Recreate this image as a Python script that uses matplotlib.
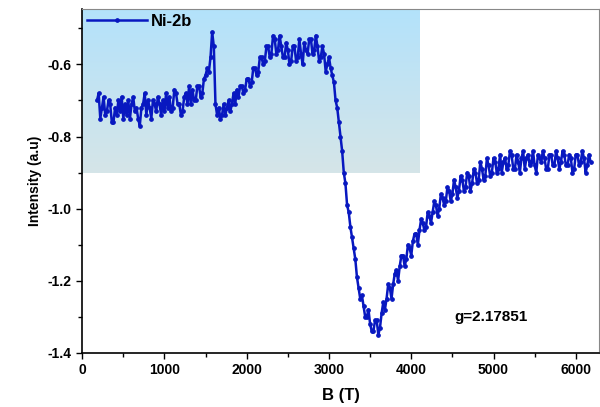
import numpy as np
import matplotlib
matplotlib.use('Agg')
import matplotlib.pyplot as plt
from matplotlib.colors import LinearSegmentedColormap

plt.rcParams['font.family'] = ['Liberation Sans', 'DejaVu Sans']
plt.rcParams['font.weight'] = 'bold'

# field sweep, one reading every 20 (180 ... 6180)
b_field = np.arange(180, 6200, 20)
intensity = [
    -0.70, -0.68, -0.75, -0.72, -0.69, -0.74, -0.73, -0.70, -0.71, -0.76,  # 180
    -0.76, -0.72, -0.74, -0.70, -0.73, -0.69, -0.75, -0.71, -0.74, -0.70,  # 380
    -0.75, -0.71, -0.69, -0.73, -0.72, -0.75, -0.77, -0.72, -0.71, -0.68,  # 580
    -0.74, -0.70, -0.72, -0.75, -0.70, -0.71, -0.73, -0.69, -0.71, -0.74,  # 780
    -0.70, -0.73, -0.68, -0.72, -0.69, -0.73, -0.72, -0.67, -0.68, -0.71,  # 980
    -0.71, -0.74, -0.73, -0.69, -0.68, -0.71, -0.66, -0.71, -0.67, -0.70,  # 1180
    -0.70, -0.66, -0.66, -0.69, -0.68, -0.64, -0.63, -0.61, -0.62, -0.58,  # 1380
    -0.51, -0.55, -0.71, -0.74, -0.72, -0.75, -0.74, -0.71, -0.74, -0.72,  # 1580
    -0.70, -0.73, -0.71, -0.68, -0.71, -0.67, -0.69, -0.66, -0.66, -0.68,  # 1780
    -0.67, -0.64, -0.64, -0.66, -0.65, -0.61, -0.61, -0.63, -0.62, -0.58,  # 1980
    -0.58, -0.60, -0.59, -0.55, -0.55, -0.58, -0.57, -0.52, -0.53, -0.57,  # 2180
    -0.56, -0.52, -0.55, -0.58, -0.58, -0.54, -0.56, -0.60, -0.59, -0.55,  # 2380
    -0.55, -0.59, -0.58, -0.53, -0.57, -0.60, -0.54, -0.56, -0.57, -0.53,  # 2580
    -0.53, -0.57, -0.56, -0.52, -0.55, -0.59, -0.58, -0.55, -0.57, -0.62,  # 2780
    -0.60, -0.58, -0.61, -0.63, -0.65, -0.70, -0.72, -0.76, -0.80, -0.84,  # 2980
    -0.90, -0.93, -0.99, -1.01, -1.05, -1.08, -1.11, -1.14, -1.19, -1.22,  # 3180
    -1.25, -1.24, -1.27, -1.30, -1.30, -1.28, -1.32, -1.34, -1.34, -1.31,  # 3380
    -1.31, -1.35, -1.33, -1.29, -1.26, -1.28, -1.25, -1.21, -1.22, -1.25,  # 3580
    -1.21, -1.18, -1.17, -1.20, -1.16, -1.13, -1.13, -1.16, -1.14, -1.10,  # 3780
    -1.11, -1.13, -1.09, -1.07, -1.07, -1.10, -1.06, -1.03, -1.04, -1.06,  # 3980
    -1.05, -1.01, -1.02, -1.04, -1.01, -0.98, -0.99, -1.02, -1.00, -0.96,  # 4180
    -0.97, -0.99, -0.98, -0.94, -0.95, -0.98, -0.96, -0.92, -0.94, -0.97,  # 4380
    -0.95, -0.91, -0.92, -0.95, -0.94, -0.90, -0.91, -0.95, -0.93, -0.89,  # 4580
    -0.90, -0.93, -0.92, -0.87, -0.89, -0.92, -0.91, -0.86, -0.88, -0.91,  # 4780
    -0.90, -0.86, -0.87, -0.90, -0.89, -0.85, -0.90, -0.87, -0.86, -0.89,  # 4980
    -0.88, -0.84, -0.85, -0.89, -0.89, -0.85, -0.87, -0.90, -0.86, -0.84,  # 5180
    -0.89, -0.86, -0.85, -0.88, -0.87, -0.84, -0.88, -0.90, -0.85, -0.86,  # 5380
    -0.87, -0.84, -0.86, -0.89, -0.89, -0.85, -0.85, -0.88, -0.88, -0.84,  # 5580
    -0.86, -0.89, -0.87, -0.84, -0.85, -0.88, -0.88, -0.85, -0.86, -0.90,  # 5780
    -0.89, -0.85, -0.85, -0.88, -0.87, -0.84, -0.86, -0.90, -0.88, -0.85,  # 5980
    -0.87,                                                                 # 6180
]
sample_name = 'Ni-2b'
g_value = 'g=2.17851'

fig = plt.figure(figsize=(6, 4.07), dpi=100)
ax = fig.add_axes([0.137, 0.133, 0.861, 0.846])

# blue gradient box behind the left part
grad = LinearSegmentedColormap.from_list('bx', ['#d5e5e8', '#b3e2fb'])
ax.imshow(np.linspace(0, 1, 100).reshape(-1, 1), cmap=grad, aspect='auto',
          origin='lower', extent=[0, 4100, -0.9, -0.445], zorder=0)

ax.plot(b_field, intensity, '-', color='#0818c0', lw=1.8, marker='o',
        markersize=2.4, label=sample_name, zorder=2)

ax.set_xlim(0, 6280)
ax.set_ylim(-1.4, -0.445)
ax.set_xticks([0, 1000, 2000, 3000, 4000, 5000, 6000])
ax.set_xticks(np.arange(500, 6300, 1000), minor=True)
ax.set_yticks([-1.4, -1.2, -1.0, -0.8, -0.6])
ax.set_yticklabels(['-1.4', '-1.2', '-1.0', '-0.8', '-0.6'])
ax.set_yticks([-1.3, -1.1, -0.9, -0.7, -0.5], minor=True)
ax.tick_params(which='both', direction='out', labelsize=10, width=1)
ax.tick_params(which='major', length=4)
ax.tick_params(which='minor', length=3)
for lbl in ax.get_xticklabels() + ax.get_yticklabels():
    lbl.set_fontweight('bold')

for s in ['top', 'right']:
    ax.spines[s].set_color('#888888')
ax.spines['left'].set_linewidth(1.2)
ax.spines['bottom'].set_linewidth(1.2)

ax.set_xlabel('B (T)', fontsize=12, fontweight='bold', labelpad=8)
ax.set_ylabel('Intensity (a.u)', fontsize=10, fontweight='bold', labelpad=4)

ax.text(4530, -1.30, g_value, fontsize=11, fontweight='bold', va='center')

leg = ax.legend(loc='upper left', frameon=False, fontsize=12, handlelength=3.6,
                handletextpad=0.2, borderaxespad=0.1, borderpad=0.2)
for t in leg.get_texts():
    t.set_fontweight('bold')

fig.savefig('out.png', dpi=100)
